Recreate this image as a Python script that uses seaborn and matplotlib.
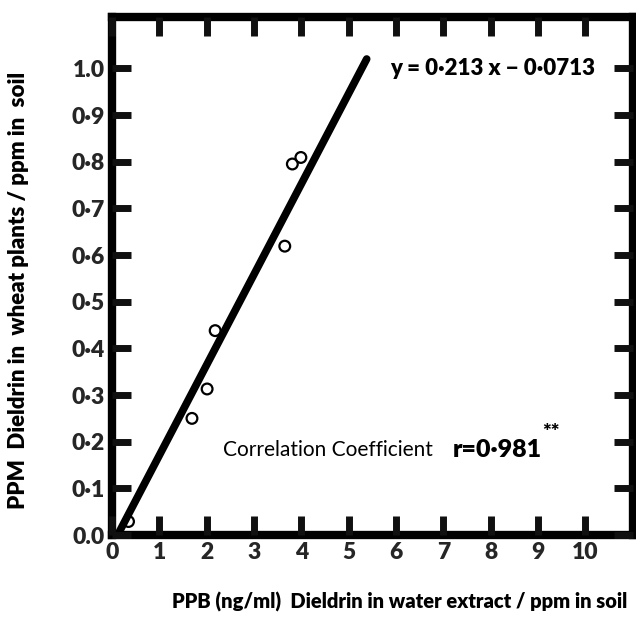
import matplotlib
matplotlib.use("Agg")
import matplotlib.pyplot as plt
import pandas as pd
import seaborn as sns

# values
water_ppb = [0.35, 1.69, 2.01, 2.18, 3.65, 3.81, 3.99]
wheat_ppm = [0.029, 0.25, 0.313, 0.438, 0.619, 0.795, 0.809]
# fitted line as drawn
line_x = [0.12, 5.38]
line_y = [0.0, 1.02]

x_ticks = list(range(0, 11))
x_labels = [str(v) for v in x_ticks]
y_ticks = [i / 10 for i in range(0, 11)]
y_labels = ["0.0", "0·1", "0·2", "0·3", "0·4", "0·5", "0·6", "0·7", "0·8", "0·9", "1.0"]

equation = "y = 0·213 x − 0·0713"
corr_label = "Correlation Coefficient"
corr_value = "r=0·981"

sns.set_style("ticks")
plt.rcParams["font.family"] = ["Lato", "DejaVu Sans"]
plt.rcParams["text.color"] = "black"
plt.rcParams["axes.labelcolor"] = "black"

df = pd.DataFrame({"x": water_ppb, "y": wheat_ppm})
fit = pd.DataFrame({"x": line_x, "y": line_y})

fig = plt.figure(figsize=(6.36, 6.2), dpi=100)
ax = fig.add_axes([0.176, 0.137, 0.819, 0.8356])

sns.lineplot(data=fit, x="x", y="y", ax=ax, color="black", linewidth=5.5)
sns.scatterplot(data=df, x="x", y="y", ax=ax, marker="o", s=60,
                facecolors="none", edgecolor="black", linewidth=1.6, zorder=3)

ax.set_xlim(0, 11.0)
ax.set_ylim(0, 1.11)
ax.set_xticks(x_ticks)
ax.set_xticklabels(x_labels, fontsize=16.5, fontweight="heavy")
ax.set_yticks(y_ticks)
ax.set_yticklabels(y_labels, fontsize=16.5, fontweight="heavy")

for side in ["left", "right", "top", "bottom"]:
    ax.spines[side].set_visible(True)
    ax.spines[side].set_linewidth(6)
    ax.spines[side].set_edgecolor("black")

ax.set_xlabel("PPB (ng/ml)  Dieldrin in water extract / ppm in soil",
              fontsize=14.5, fontweight="heavy")
ax.set_ylabel("PPM  Dieldrin in  wheat plants / ppm in  soil",
              fontsize=16, fontweight="heavy")
ax.xaxis.set_label_coords(0.553, -0.11)
ax.yaxis.set_label_coords(-0.16, 0.473)

ax.text(5.88, 1.0, equation, fontsize=16, fontweight="heavy", va="center")
ax.text(2.35, 0.183, corr_label, fontsize=15, va="center")
ax.text(7.2, 0.183, corr_value, fontsize=18, fontweight="heavy", va="center")
ax.text(9.09, 0.219, "**", fontsize=15, fontweight="heavy", va="center")

ax.set_axisbelow(False)
ax.tick_params(axis="both", which="major", direction="in",
               bottom=True, left=True, top=True, right=True,
               length=14, width=5, color="#101010", pad=5)

fig.savefig("out.png", dpi=100)
